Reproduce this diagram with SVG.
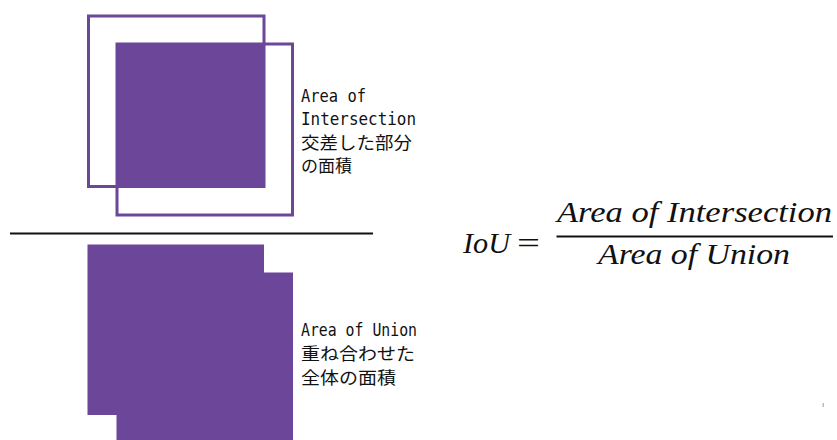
<svg xmlns="http://www.w3.org/2000/svg" width="837" height="440" viewBox="0 0 837 440">
<style>
.box{fill:none;stroke:#6b4699;stroke-width:3}
.fill{fill:#6b4699}
.lat{font-family:"DejaVu Sans Mono","Liberation Mono",monospace;font-size:18px;fill:#111}
.jp{font-family:"Noto Sans CJK JP","Noto Sans",sans-serif;font-size:17px;fill:#111}
.math{font-family:"Liberation Serif","DejaVu Serif",serif;font-style:italic;font-size:29px;fill:#111}
.mathu{font-family:"Liberation Serif","DejaVu Serif",serif;font-size:29px;fill:#111}
</style>
<rect width="837" height="440" fill="#fff"/>
<g id="intersection">
  <rect class="fill" x="116.5" y="43.5" width="147.5" height="143"/>
  <rect class="box" x="88.5" y="16" width="175.5" height="170.5"/>
  <rect class="box" x="117" y="44" width="175.5" height="171"/>
</g>
<g id="intersection-label">
  <text class="lat" x="301" y="102" textLength="65" lengthAdjust="spacingAndGlyphs">Area of</text>
  <text class="lat" x="301" y="125" textLength="115" lengthAdjust="spacingAndGlyphs">Intersection</text>
  <text class="jp" x="301" y="149" textLength="111" lengthAdjust="spacingAndGlyphs">交差した部分</text>
  <text class="jp" x="301" y="172">の面積</text>
</g>
<g id="divider">
  <line x1="10" y1="233.5" x2="373" y2="233.5" stroke="#111" stroke-width="2"/>
</g>
<g id="union">
  <path class="fill" d="M87.5 244.5 H264 V272.5 H293 V440 H116.5 V415 H87.5 Z"/>
</g>
<g id="union-label">
  <text class="lat" x="301" y="336" textLength="116" lengthAdjust="spacingAndGlyphs">Area of Union</text>
  <text class="jp" x="301" y="360" textLength="114" lengthAdjust="spacingAndGlyphs">重ね合わせた</text>
  <text class="jp" x="301" y="384" textLength="95" lengthAdjust="spacingAndGlyphs">全体の面積</text>
</g>
<g id="formula">
  <text class="math" x="463" y="253" textLength="47" lengthAdjust="spacingAndGlyphs">IoU</text>
  <text class="mathu" x="517" y="253" textLength="23" lengthAdjust="spacingAndGlyphs">=</text>
  <text class="math" x="557" y="222" textLength="275" lengthAdjust="spacingAndGlyphs">Area of Intersection</text>
  <line x1="556.5" y1="236.5" x2="833" y2="236.5" stroke="#111" stroke-width="2"/>
  <text class="math" x="598" y="264" textLength="192" lengthAdjust="spacingAndGlyphs">Area of Union</text>
</g>
<rect x="822.5" y="403" width="1.5" height="4" fill="#bbb"/>
</svg>
